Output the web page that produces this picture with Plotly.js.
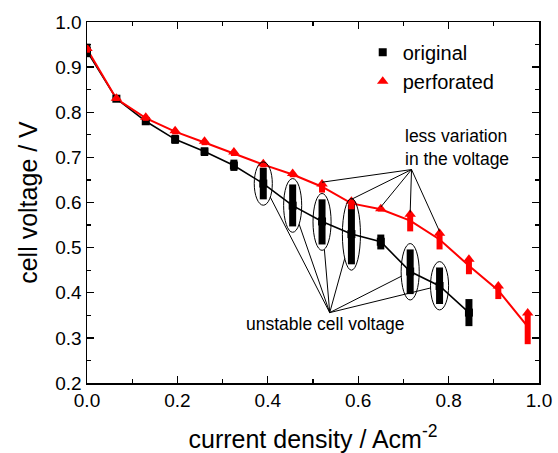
<!DOCTYPE html>
<html>
<head>
<meta charset="utf-8">
<script src="https://cdn.plot.ly/plotly-3.0.1.min.js"></script>
<style>html,body{margin:0;padding:0;background:#fff;}</style>
</head>
<body>
<div id="chart" style="width:558px;height:453px;"></div>
<script>
// current density (A cm^-2)
const xCurrent = [0.0, 0.065, 0.13, 0.195, 0.26, 0.325, 0.39, 0.455, 0.52, 0.585, 0.65, 0.715, 0.78, 0.845, 0.91, 0.975];

// original electrode: mean / min / max cell voltage (V)
const origMean = [0.935, 0.83, 0.78, 0.74, 0.713, 0.682, 0.642, 0.593, 0.558, 0.53, 0.513, 0.447, 0.415, 0.356];
const origMin  = [0.922, 0.825, 0.774, 0.73, 0.703, 0.67, 0.607, 0.547, 0.507, 0.463, 0.496, 0.397, 0.375, 0.326];
const origMax  = [0.952, 0.835, 0.787, 0.75, 0.722, 0.695, 0.677, 0.64, 0.607, 0.596, 0.529, 0.496, 0.456, 0.386];

// perforated electrode: mean / min / max cell voltage (V)
const perfMean = [0.94, 0.83, 0.787, 0.757, 0.733, 0.709, 0.684, 0.662, 0.635, 0.598, 0.585, 0.56, 0.518, 0.46, 0.405, 0.325];
const perfMin  = [0.932, 0.825, 0.781, 0.751, 0.727, 0.703, 0.678, 0.656, 0.622, 0.585, 0.58, 0.536, 0.496, 0.441, 0.386, 0.286];
const perfMax  = [0.945, 0.835, 0.793, 0.763, 0.74, 0.716, 0.69, 0.668, 0.645, 0.607, 0.59, 0.578, 0.536, 0.478, 0.419, 0.359];

const seriesNames = ["original", "perforated"];
const circledOrig = [6, 7, 8, 9, 11, 12];   // unstable points (circled)
const pointedPerf = [8, 9, 10, 11, 12];     // perforated points pointed at
const noteUnstable = "unstable cell voltage";
const noteLess = "less variation<br>in the voltage";
const hubUnstable = [0.537, 0.356];
const hubLess = [0.718, 0.673];

const FONT = '"Liberation Sans", Arial, Helvetica, sans-serif';
const xo = xCurrent.slice(0, origMean.length);

const traces = [
  {x: xo, y: origMean, mode: 'lines', line: {color: '#000', width: 1.6}, showlegend: false, hoverinfo: 'skip'},
  {x: xCurrent, y: perfMean, mode: 'lines', line: {color: '#ff0000', width: 2}, showlegend: false, hoverinfo: 'skip'},
  {x: xo, y: origMean, mode: 'markers', name: seriesNames[0],
   marker: {symbol: 'square', size: 8, color: '#000'},
   error_y: {type: 'data', symmetric: false,
             array: origMax.map((v, i) => v - origMean[i]),
             arrayminus: origMin.map((v, i) => origMean[i] - v),
             color: '#000', thickness: 7, width: 0}},
  {x: xCurrent, y: perfMax.map(v => v - 0.004), mode: 'markers', name: seriesNames[1],
   marker: {symbol: 'triangle-up', size: 10, color: '#ff0000'},
   error_y: {type: 'data', symmetric: false,
             array: perfMax.map(() => 0),
             arrayminus: perfMin.map((v, i) => (perfMax[i] - 0.004) - v),
             color: '#ff0000', thickness: 6, width: 0}}
];

const shapes = [];
const rx = 0.02, pad = 0.013;
circledOrig.forEach(i => {
  const cx = xCurrent[i];
  const cy = (origMin[i] + origMax[i]) / 2;
  const ry = (origMax[i] - origMin[i]) / 2 + pad;
  shapes.push({type: 'circle', xref: 'x', yref: 'y', x0: cx - rx, x1: cx + rx, y0: cy - ry, y1: cy + ry,
               line: {color: '#000', width: 1}});
  const dx = hubUnstable[0] - cx, dy = hubUnstable[1] - cy;
  const t = 1 / Math.sqrt((dx / rx) ** 2 + (dy / ry) ** 2);
  shapes.push({type: 'line', xref: 'x', yref: 'y', x0: hubUnstable[0], y0: hubUnstable[1],
               x1: cx + dx * t, y1: cy + dy * t, line: {color: '#000', width: 1}});
});
pointedPerf.forEach(i => {
  shapes.push({type: 'line', xref: 'x', yref: 'y', x0: hubLess[0], y0: hubLess[1],
               x1: xCurrent[i], y1: perfMax[i], line: {color: '#000', width: 1}});
});

const layout = {
  width: 558, height: 453,
  margin: {l: 87, r: 19, t: 22, b: 70},
  paper_bgcolor: '#fff', plot_bgcolor: '#fff',
  font: {family: FONT, color: '#000'},
  showlegend: true,
  legend: {x: 0.61, y: 0.97, xanchor: 'left', yanchor: 'top', bgcolor: 'rgba(0,0,0,0)',
           font: {size: 20, family: FONT, color: '#000'}, tracegroupgap: 0},
  xaxis: {
    range: [0, 1], dtick: 0.2, tick0: 0, tickformat: '.1f',
    ticks: 'inside', ticklen: 7, tickwidth: 1.3, tickcolor: '#000',
    minor: {ticks: 'inside', dtick: 0.1, ticklen: 4, tickwidth: 1.3, tickcolor: '#000'},
    showline: true, linecolor: '#000', linewidth: 1.5, mirror: 'ticks',
    showgrid: false, zeroline: false,
    tickfont: {size: 19, family: FONT, color: '#000'},
    title: {text: 'current density / Acm<sup>-2</sup>', font: {size: 25, family: FONT, color: '#000'}, standoff: 22}
  },
  yaxis: {
    range: [0.2, 1.0], dtick: 0.1, tick0: 0.2, tickformat: '.1f',
    ticks: 'inside', ticklen: 7, tickwidth: 1.3, tickcolor: '#000',
    minor: {ticks: 'inside', dtick: 0.05, ticklen: 4, tickwidth: 1.3, tickcolor: '#000'},
    showline: true, linecolor: '#000', linewidth: 1.5, mirror: 'ticks',
    showgrid: false, zeroline: false,
    tickfont: {size: 19, family: FONT, color: '#000'},
    title: {text: 'cell voltage / V', font: {size: 25, family: FONT, color: '#000'}, standoff: 10}
  },
  shapes: shapes,
  annotations: [
    {xref: 'x', yref: 'y', x: 0.528, y: 0.33, text: noteUnstable, showarrow: false,
     font: {size: 17.5, family: FONT, color: '#000'}},
    {xref: 'x', yref: 'y', x: 0.818, y: 0.721, text: noteLess, showarrow: false, align: 'left',
     font: {size: 17.5, family: FONT, color: '#000'}}
  ]
};

Plotly.newPlot('chart', traces, layout, {displayModeBar: false, staticPlot: true});
</script>
</body>
</html>
